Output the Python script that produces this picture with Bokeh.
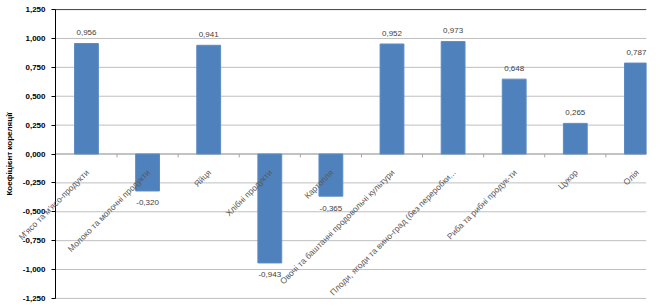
import math
from bokeh.plotting import figure
from bokeh.models import (ColumnDataSource, LabelSet, FixedTicker,
                          CustomJSTickFormatter, Range1d, LinearAxis)
from bokeh.core.properties import value
from bokeh.embed import file_html
from bokeh.resources import INLINE

categories = [
    "М'ясо та м'ясо-продукти",
    "Молоко та молочні продукти",
    "Яйця",
    "Хлібні продукти",
    "Картопля",
    "Овочі та баштанні продовольчі культури",
    "Плоди, ягоди та вино-град (без переробки...",
    "Риба та рибні продук-ти",
    "Цукор",
    "Олія",
]
values = [0.956, -0.320, 0.941, -0.943, -0.365, 0.952, 0.973, 0.648, 0.265, 0.787]
y_ticks = [-1.25, -1.0, -0.75, -0.5, -0.25, 0.0, 0.25, 0.5, 0.75, 1.0, 1.25]
y_title = "Коефіцієнт кореляції"

FONT = "Liberation Sans"

# layout constants (data units along the category axis)
X_AXIS_POS = -0.507      # where the value axis crosses
X_START = -1.407         # left edge of the canvas (room for the value axis labels)
X_END = 9.165
Y_PAD = 0.07             # room above/below the value range for the end tick labels

idx = list(range(len(categories)))
val_text = [("%.3f" % v).replace(".", ",") for v in values]
pos_idx = [i for i in idx if values[i] >= 0]
neg_idx = [i for i in idx if values[i] < 0]

src = ColumnDataSource(dict(x=idx, top=values))
src_pos = ColumnDataSource(dict(x=[idx[i] for i in pos_idx], y=[values[i] for i in pos_idx],
                                txt=[val_text[i] for i in pos_idx]))
src_neg = ColumnDataSource(dict(x=[idx[i] for i in neg_idx], y=[values[i] for i in neg_idx],
                                txt=[val_text[i] for i in neg_idx]))
src_cat = ColumnDataSource(dict(x=idx, y=[0.0] * len(idx), cat=categories))
src_ticks = ColumnDataSource(dict(x=[i + 0.5 for i in idx[:-1]]))
src_grid = ColumnDataSource(dict(y=y_ticks[:-1]))

y_lo, y_hi = y_ticks[0], y_ticks[-1]

p = figure(width=667, height=307, output_backend="svg", toolbar_location=None,
           x_range=Range1d(X_START, X_END), y_range=Range1d(y_lo - Y_PAD, y_hi + Y_PAD),
           x_axis_location=None, y_axis_location=None,
           min_border_left=0, min_border_right=21, min_border_top=1, min_border_bottom=1)
p.outline_line_color = None
p.background_fill_color = "white"
p.xgrid.visible = False
p.ygrid.visible = False

# horizontal gridlines, only across the plot area
p.segment(x0=X_AXIS_POS, y0="y", x1=X_END, y1="y", source=src_grid,
          line_color="#BFBFBF", line_width=1)
# top border
p.segment(x0=X_AXIS_POS, y0=y_hi, x1=X_END, y1=y_hi, line_color="#404040", line_width=1)
# category axis line at zero and its tick marks
p.segment(x0=X_AXIS_POS, y0=0, x1=X_END, y1=0, line_color="#A6A6A6", line_width=1)
p.segment(x0="x", y0=0, x1="x", y1=-0.03, source=src_ticks, line_color="#A6A6A6", line_width=1)

yaxis = LinearAxis(ticker=FixedTicker(ticks=y_ticks), fixed_location=X_AXIS_POS,
                   bounds=(y_lo, y_hi),
                   formatter=CustomJSTickFormatter(code="return tick.toFixed(3).replace('.', ',');"))
yaxis.axis_label = y_title
yaxis.axis_label_text_font = FONT
yaxis.axis_label_text_font_size = "8px"
yaxis.axis_label_text_font_style = "bold"
yaxis.axis_label_text_color = "black"
yaxis.axis_label_standoff = 6
yaxis.major_label_text_font = FONT
yaxis.major_label_text_font_size = "8px"
yaxis.major_label_text_font_style = "bold"
yaxis.major_label_text_color = "black"
yaxis.major_label_standoff = 6
yaxis.major_tick_out = 4
yaxis.major_tick_in = 0
yaxis.minor_tick_out = 0
yaxis.minor_tick_in = 0
yaxis.axis_line_color = "black"
yaxis.major_tick_line_color = "black"
p.add_layout(yaxis, "left")

p.vbar(x="x", top="top", bottom=0, width=0.39, source=src,
       fill_color="#4F81BD", line_color="#5B8BC4", line_width=1)

lab_pos = LabelSet(x="x", y="y", text="txt", source=src_pos, text_align="center",
                   text_baseline="middle", y_offset=11, text_font=value(FONT),
                   text_font_size=value("8px"), text_color=value("#404040"))
lab_neg = LabelSet(x="x", y="y", text="txt", source=src_neg, text_align="center",
                   text_baseline="middle", y_offset=-12, text_font=value(FONT),
                   text_font_size=value("8px"), text_color=value("#404040"))
p.add_layout(lab_pos)
p.add_layout(lab_neg)

lab_cat = LabelSet(x="x", y="y", text="cat", source=src_cat, text_align="right",
                   text_baseline="middle", angle=math.pi / 4, x_offset=1, y_offset=-17,
                   text_font=value(FONT), text_font_size=value("8.5px"),
                   text_color=value("#595959"))
p.add_layout(lab_cat)

open("out.html", "w").write(file_html(p, INLINE))
